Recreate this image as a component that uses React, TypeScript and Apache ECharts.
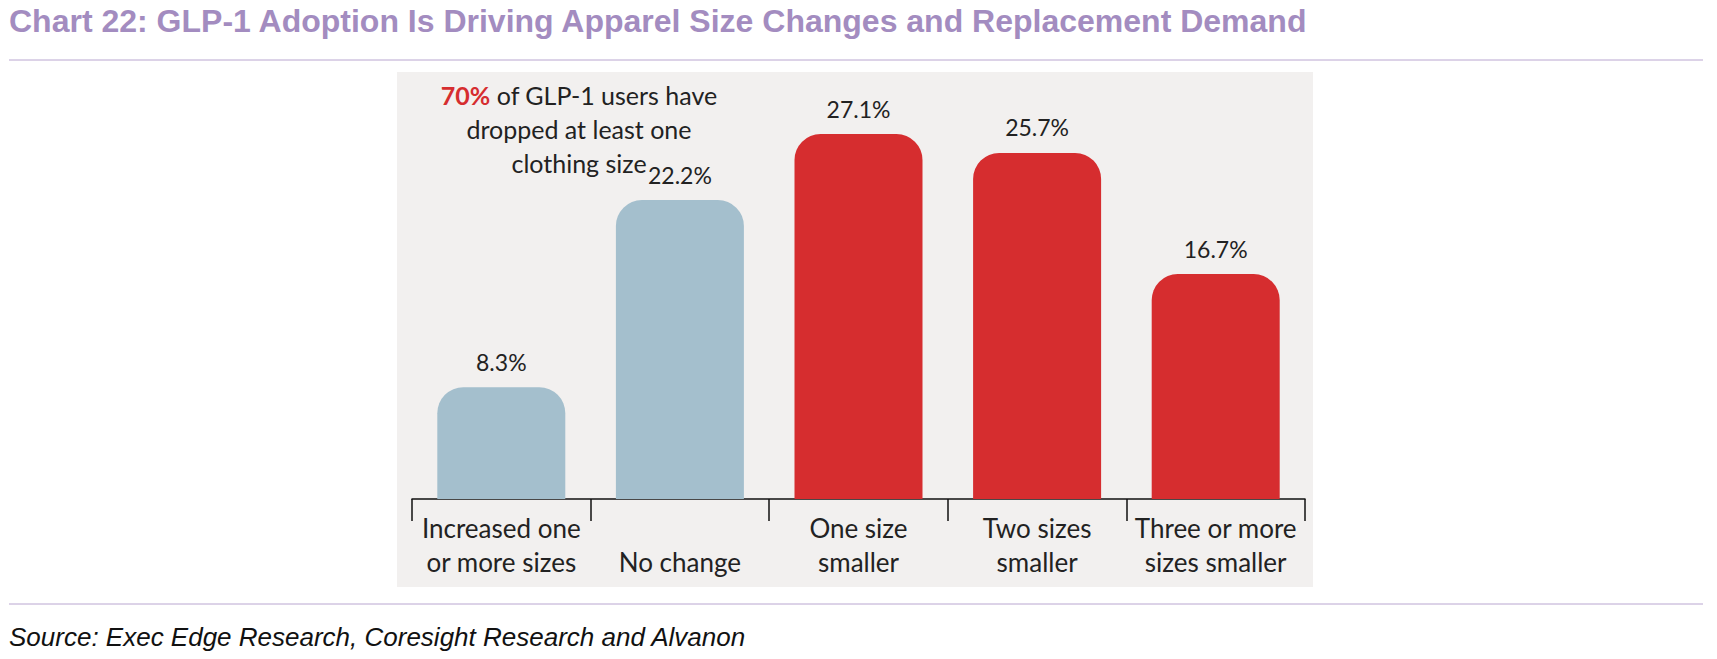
import * as echarts from 'echarts'
import React, { useEffect, useRef } from 'react'

const categories = ['Increased one\nor more sizes', 'No change', 'One size\nsmaller', 'Two sizes\nsmaller', 'Three or more\nsizes smaller']
const values = [8.3, 22.2, 27.1, 25.7, 16.7]
const barColors = ['#A4BFCD', '#A4BFCD', '#D62D2F', '#D62D2F', '#D62D2F']

const App: React.FC = () => {
  const chartRef = useRef<HTMLDivElement>(null)

  useEffect(() => {
    const chart = echarts.init(chartRef.current!, null, { renderer: 'svg' })
    chart.setOption({
      animation: false,
      backgroundColor: '#fff',
      textStyle: { fontFamily: 'Lato' },
      graphic: [
        { type: 'rect', z: -10, shape: { x: 397, y: 72, width: 916, height: 515 }, style: { fill: '#F2F0EF' } },
        {
          type: 'text', left: 9, top: 5,
          style: { text: 'Chart 22: GLP-1 Adoption Is Driving Apparel Size Changes and Replacement Demand', font: 'bold 32px "Liberation Sans", Arial', fill: '#A38CC0' }
        },
        { type: 'line', shape: { x1: 9, y1: 60, x2: 1703, y2: 60 }, style: { stroke: '#B9A6D0', lineWidth: 1 } },
        { type: 'line', shape: { x1: 9, y1: 604, x2: 1703, y2: 604 }, style: { stroke: '#B9A6D0', lineWidth: 1 } },
        {
          type: 'text', left: 9, top: 624,
          style: { text: 'Source: Exec Edge Research, Coresight Research and Alvanon', font: 'italic 26px "Liberation Sans", Arial', fill: '#111' }
        },
        {
          type: 'text', x: 579, y: 78,
          style: {
            text: '{r|70%} of GLP-1 users have\ndropped at least one\nclothing size',
            align: 'center', lineHeight: 34, font: '25px Lato', fill: '#222',
            rich: { r: { fill: '#D62D2F', fontWeight: 'bold', fontSize: 25, fontFamily: 'Lato' } }
          }
        }
      ],
      grid: { left: 412, right: 412, top: 95, bottom: 160 },
      xAxis: {
        type: 'category',
        data: categories.map((c) => (c.includes('\n') ? c : { value: c, textStyle: { padding: [34, 0, 0, 0] } })),
        axisLine: { lineStyle: { color: '#111', width: 1.5 } },
        axisTick: { show: true, length: 22, lineStyle: { color: '#111', width: 1.5 } },
        axisLabel: { color: '#222', fontSize: 26, lineHeight: 34, margin: 12, interval: 0 }
      },
      yAxis: { type: 'value', min: 0, max: 30, show: false },
      series: [{
        type: 'bar',
        barWidth: 128,
        data: values.map((v, i) => ({ value: v, itemStyle: { color: barColors[i], borderRadius: [26, 26, 0, 0] } })),
        label: { show: true, position: 'top', distance: 14, fontSize: 23, color: '#222', formatter: '{c}%' }
      }]
    })
    return () => chart.dispose()
  }, [])

  return <div ref={chartRef} style={{ position: 'fixed', left: 0, top: 0, width: 1717, height: 659 }} />
}

export default App
